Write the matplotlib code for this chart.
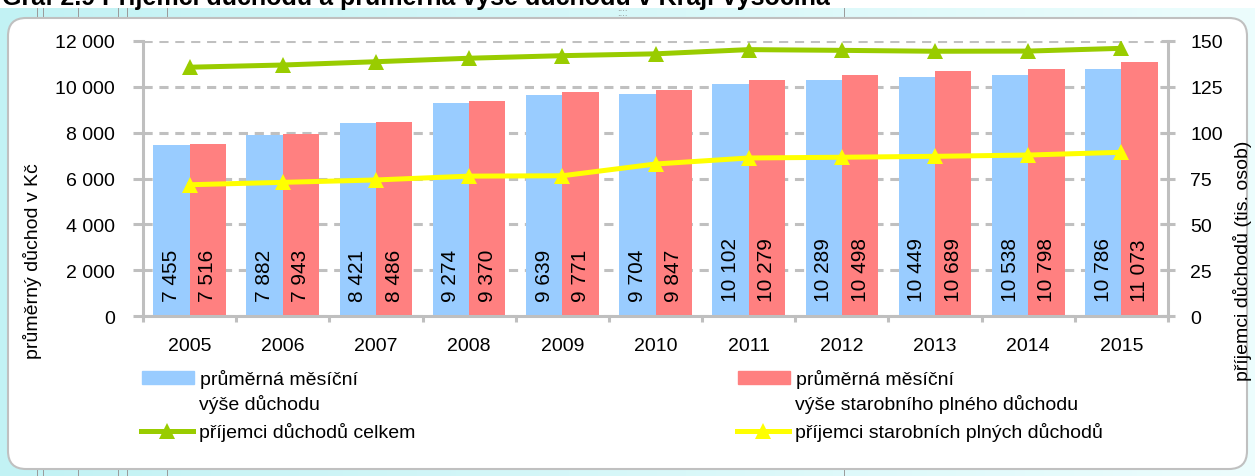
import numpy as np
import matplotlib
matplotlib.use('Agg')
import matplotlib.pyplot as plt
from matplotlib.patches import FancyBboxPatch, Patch
from matplotlib.lines import Line2D
from matplotlib.colors import LinearSegmentedColormap

plt.rcParams['font.family'] = ['Liberation Sans', 'DejaVu Sans']

# data
years = ['2005', '2006', '2007', '2008', '2009', '2010', '2011', '2012', '2013', '2014', '2015']
vyse_duchodu = [7455, 7882, 8421, 9274, 9639, 9704, 10102, 10289, 10449, 10538, 10786]
vyse_starobniho = [7516, 7943, 8486, 9370, 9771, 9847, 10279, 10498, 10689, 10798, 11073]
prijemci_celkem = [135.7, 136.9, 138.7, 140.6, 142.0, 143.0, 145.3, 144.9, 144.4, 144.5, 146.0]
prijemci_starobni = [71.6, 72.9, 74.2, 76.3, 76.5, 82.9, 86.2, 86.6, 87.1, 87.8, 89.3]

blue = '#99CCFF'
red = '#FF8080'
green = '#99CC00'
yellow = '#FFFF00'
grey = '#BFBFBF'

W, H = 1255, 477
fig = plt.figure(figsize=(W / 100, H / 100), dpi=100, facecolor='white')


def fx(px):
    return px / W


def fy(py):
    return 1 - py / H


def fmt(v):
    return '{:,}'.format(v).replace(',', ' ')


# background: cyan strip + white rounded panel
bg = fig.add_axes([0, 0, 1, 1])
bg.set_xlim(0, W)
bg.set_ylim(H, 0)
bg.axis('off')
cmap = LinearSegmentedColormap.from_list('strip', ['#c2f2f4', '#ecfdfd'])
bg.imshow(np.linspace(0, 1, 256).reshape(1, -1), cmap=cmap, aspect='auto',
          extent=[0, W, H, 9], zorder=0)
for xl in [37, 43, 78, 118, 127, 167, 844]:
    bg.plot([xl, xl], [9, 19], color='#9a9a9a', lw=0.7, zorder=1)
    bg.plot([xl, xl], [470, 477], color='#9a9a9a', lw=0.7, zorder=1)
bg.add_patch(FancyBboxPatch((8, 19), 1239, 451, boxstyle='round,pad=0,rounding_size=18',
                            facecolor='white', edgecolor='#c0c0c0', lw=1.5, zorder=2))
bg.text(617, 16, '::::', color='#888888', fontsize=7, zorder=3)

# title is cut off at the top edge, as in the source
fig.text(fx(2), fy(5), 'Graf 2.9 Příjemci důchodů a průměrná výše důchodu v Kraji Vysočina',
         fontsize=18, fontweight='bold', va='baseline', ha='left')

# main axes
ax = fig.add_axes([fx(143), fy(317), fx(1168) - fx(143), fy(42) - fy(317)])
ax.set_facecolor('none')
x = np.arange(len(years))
w = 0.39
ax.bar(x - w / 2, vyse_duchodu, w, color=blue)
ax.bar(x + w / 2, vyse_starobniho, w, color=red)
for i in range(len(years)):
    ax.text(x[i] - w / 2, 640, fmt(vyse_duchodu[i]), rotation=90, ha='center', va='bottom', fontsize=15)
    ax.text(x[i] + w / 2, 640, fmt(vyse_starobniho[i]), rotation=90, ha='center', va='bottom', fontsize=15)

ax.set_xlim(-0.5, len(years) - 0.5)
ax.set_ylim(0, 12000)
ax.set_yticks(range(0, 12001, 2000))
ax.set_yticklabels([fmt(v) for v in range(0, 12001, 2000)])
ax.set_xticks(x)
ax.set_xticklabels(years)
ax.set_xticks(np.arange(-0.5, len(years)), minor=True)
ax.yaxis.grid(True, color='#C0C0C0', ls=(0, (3, 2.2)), lw=2.2)
ax.set_axisbelow(True)
for s in ['top', 'right']:
    ax.spines[s].set_visible(False)
for s in ['left', 'bottom']:
    ax.spines[s].set_color(grey)
    ax.spines[s].set_linewidth(2.2)
ax.tick_params(axis='y', direction='out', length=7, width=2.2, color=grey, labelsize=14, pad=13)
ax.tick_params(axis='x', which='major', length=0, labelsize=14, pad=15)
ax.tick_params(axis='x', which='minor', direction='out', length=4, width=2.2, color=grey)

ax2 = ax.twinx()
ax2.plot(x, prijemci_celkem, color=green, lw=3.6, marker='^', ms=12, mew=0)
ax2.plot(x, prijemci_starobni, color=yellow, lw=3.6, marker='^', ms=12, mew=0)
ax2.set_ylim(0, 150)
ax2.set_yticks(range(0, 151, 25))
for s in ['top', 'left', 'bottom']:
    ax2.spines[s].set_visible(False)
ax2.spines['right'].set_color(grey)
ax2.spines['right'].set_linewidth(2.2)
ax2.tick_params(axis='y', direction='inout', length=10, width=2.2, color=grey, labelsize=14, pad=11)

fig.text(fx(33), fy(261), 'průměrný důchod v Kč', rotation=90, ha='center', va='center', fontsize=14)
fig.text(fx(1243), fy(261), 'příjemci důchodů (tis. osob)', rotation=90, ha='center', va='center', fontsize=14)

# legend
fs = 14
fpx = fs / 72 * 100
entries = [
    (Patch(color=blue), 'průměrná měsíční', 142, 380),
    (Patch(color=red), 'průměrná měsíční', 738, 380),
    (Line2D([], [], color=green, lw=3.6, marker='^', ms=12, mew=0), 'příjemci důchodů celkem', 141, 433),
    (Line2D([], [], color=yellow, lw=3.6, marker='^', ms=12, mew=0), 'příjemci starobních plných důchodů', 737, 433),
]
for h, lab, px, py in entries:
    leg = fig.legend([h], [lab], loc='center left', bbox_to_anchor=(fx(px), fy(py)),
                     frameon=False, borderpad=0, borderaxespad=0, fontsize=fs,
                     handlelength=52 / fpx, handleheight=0.6, handletextpad=6 / fpx)
fig.text(fx(199), fy(405), 'výše důchodu', fontsize=fs, va='center', ha='left')
fig.text(fx(795), fy(405), 'výše starobního plného důchodu', fontsize=fs, va='center', ha='left')

fig.savefig('out.png', dpi=100, facecolor=fig.get_facecolor())
